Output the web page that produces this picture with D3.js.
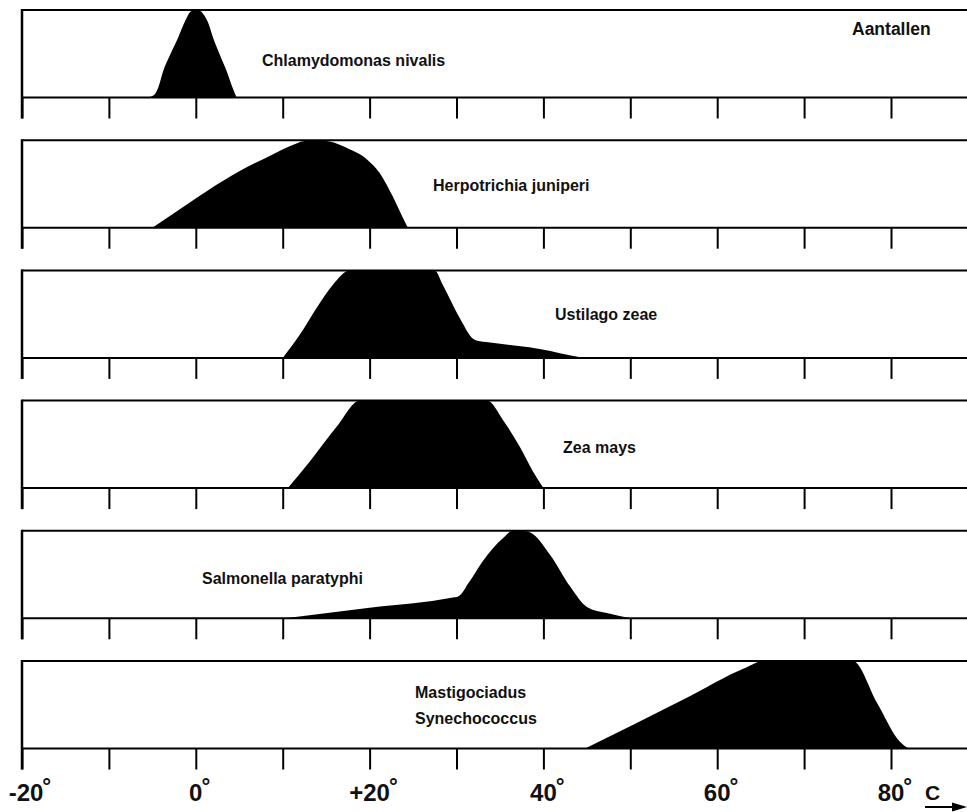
<!DOCTYPE html>
<html>
<head>
<meta charset="utf-8">
<script src="https://cdn.jsdelivr.net/npm/d3@7"></script>
<style>
  html, body { margin: 0; padding: 0; background: #fff; }
  svg { display: block; }
  text { font-family: "Liberation Sans", Arial, Helvetica, sans-serif; font-weight: bold; fill: #111; }
</style>
</head>
<body>
<svg id="chart" width="967" height="812"></svg>
<script>
// Temperature axis (degrees C)
const tickTemps = [-20, -10, 0, 10, 20, 30, 40, 50, 60, 70, 80];
const labelTemps = [-20, 0, 20, 40, 60, 80];
const labelTexts = ["-20", "0", "+20", "40", "60", "80"];
const unitLabel = "C";
const countLabel = "Aantallen";

// Organisms, one panel each (top to bottom)
const speciesNames = [
  ["Chlamydomonas nivalis"],
  ["Herpotrichia juniperi"],
  ["Ustilago zeae"],
  ["Zea mays"],
  ["Salmonella paratyphi"],
  ["Mastigociadus", "Synechococcus"]
];

// Relative abundance (0..1) against temperature for each organism: [temp, value]
const chlamydomonas = [[-5.6, 0], [-4.8, 0.03], [-4.3, 0.12], [-3.8, 0.29], [-2.9, 0.5], [-2.05, 0.68],
  [-1.2, 0.88], [-0.5, 0.99], [0.3, 1], [0.9, 0.95], [1.4, 0.86], [2.0, 0.68], [2.8, 0.48], [3.6, 0.29], [4.2, 0.12], [4.7, 0]];
const herpotrichia = [[-5.0, 0], [-2.6, 0.16], [1.3, 0.42], [5.1, 0.65], [8.9, 0.84], [10.8, 0.93],
  [12.5, 0.99], [13.8, 1], [15.4, 0.985], [17.4, 0.91], [19.7, 0.78], [21.2, 0.62], [22.7, 0.35], [23.8, 0.12], [24.4, 0]];
const ustilago = [[10.0, 0], [12.0, 0.27], [13.9, 0.57], [15.8, 0.84], [17.7, 1], [27.5, 1], [28.4, 0.84],
  [30.4, 0.45], [31.9, 0.22], [32.7, 0.19], [33.4, 0.181], [40.8, 0.08], [43.0, 0.03], [44.6, 0]];
const zeaMays = [[10.6, 0], [13.1, 0.3], [16.2, 0.7], [18.9, 1], [33.5, 1], [35.4, 0.77], [37.3, 0.47],
  [38.8, 0.19], [40.0, 0]];
const salmonella = [[10.3, 0], [20.0, 0.12], [29.6, 0.238], [30.2, 0.25], [31.5, 0.42], [33.0, 0.65], [35.4, 0.92],
  [36.5, 1], [37.5, 1], [38.5, 0.98], [40.8, 0.72], [43.1, 0.36], [45.0, 0.13], [47.3, 0.06], [50.0, 0]];
const mastigocladus = [[44.8, 0], [56.1, 0.56], [63.4, 0.93], [65.3, 1], [75.6, 1], [78.4, 0.52],
  [81.0, 0.08], [82.0, 0]];

const profiles = [chlamydomonas, herpotrichia, ustilago, zeaMays, salmonella, mastigocladus];

// Layout
const W = 967, H = 812;
const x = d3.scaleLinear().domain([-20, 80]).range([22, 891]);
const panelTop = d3.scaleLinear().domain([0, speciesNames.length - 1]).range([10, 661]);
const panelH = 87.5;
const tickLen = 21;
const labelPlace = [
  { x: 262, dy: [56] },
  { x: 433, dy: [51] },
  { x: 555, dy: [50] },
  { x: 563, dy: [52] },
  { x: 202, dy: [53] },
  { x: 415, dy: [37, 63] }
];

const svg = d3.select("#chart");
svg.append("rect").attr("width", W).attr("height", H).attr("fill", "#fff");

speciesNames.forEach((names, i) => {
  const top = panelTop(i);
  const base = top + panelH;
  const y = d3.scaleLinear().domain([0, 1]).range([base, top]);
  const g = svg.append("g").attr("class", "panel");

  const area = d3.area()
    .x(d => x(d[0]))
    .y0(y(0))
    .y1(d => y(d[1]))
    .curve(d3.curveMonotoneX);

  g.append("path")
    .datum(profiles[i])
    .attr("d", area)
    .attr("fill", "#000");

  // frame: top rule, baseline, left edge
  g.append("line").attr("x1", x(-20)).attr("x2", W).attr("y1", top).attr("y2", top)
    .attr("stroke", "#000").attr("stroke-width", 2);
  g.append("line").attr("x1", x(-20)).attr("x2", W).attr("y1", base).attr("y2", base)
    .attr("stroke", "#000").attr("stroke-width", 2);
  g.append("line").attr("x1", x(-20)).attr("x2", x(-20)).attr("y1", top - 1).attr("y2", base + tickLen)
    .attr("stroke", "#000").attr("stroke-width", 2.5);

  // ticks below the baseline
  const axis = d3.axisBottom(x).tickValues(tickTemps).tickSize(tickLen).tickSizeOuter(0).tickFormat("");
  const ag = g.append("g").attr("transform", `translate(0,${base})`).call(axis);
  ag.select(".domain").remove();
  ag.selectAll(".tick line").attr("stroke", "#000").attr("stroke-width", 2);

  // organism name
  const lp = labelPlace[i];
  names.forEach((n, k) => {
    g.append("text").attr("x", lp.x).attr("y", top + lp.dy[k])
      .attr("font-size", 16).text(n);
  });
});

// "Aantallen" in the first panel
svg.append("text").attr("x", 852).attr("y", 35).attr("font-size", 17.5).text(countLabel);

// Temperature labels under the last panel
const labelBase = 801;
const labelShift = [4, 0, 0, 0, 0, 0];
labelTemps.forEach((t, i) => {
  const tx = svg.append("text")
    .attr("x", x(t) + labelShift[i]).attr("y", labelBase)
    .attr("text-anchor", "middle").attr("font-size", 24)
    .text(labelTexts[i]);
  const bb = tx.node().getBBox();
  svg.append("text")
    .attr("x", bb.x + bb.width - 1).attr("y", labelBase - 7)
    .attr("font-size", 22).attr("font-weight", "normal")
    .text("°");
});

// unit with arrow
svg.append("text").attr("x", 925).attr("y", 800).attr("font-size", 21).text(unitLabel);
svg.append("line").attr("x1", 925).attr("x2", 957).attr("y1", 807).attr("y2", 807)
  .attr("stroke", "#000").attr("stroke-width", 2);
svg.append("path").attr("d", "M952,802.5 L967,807 L952,811.5 Z").attr("fill", "#000");
</script>
</body>
</html>
